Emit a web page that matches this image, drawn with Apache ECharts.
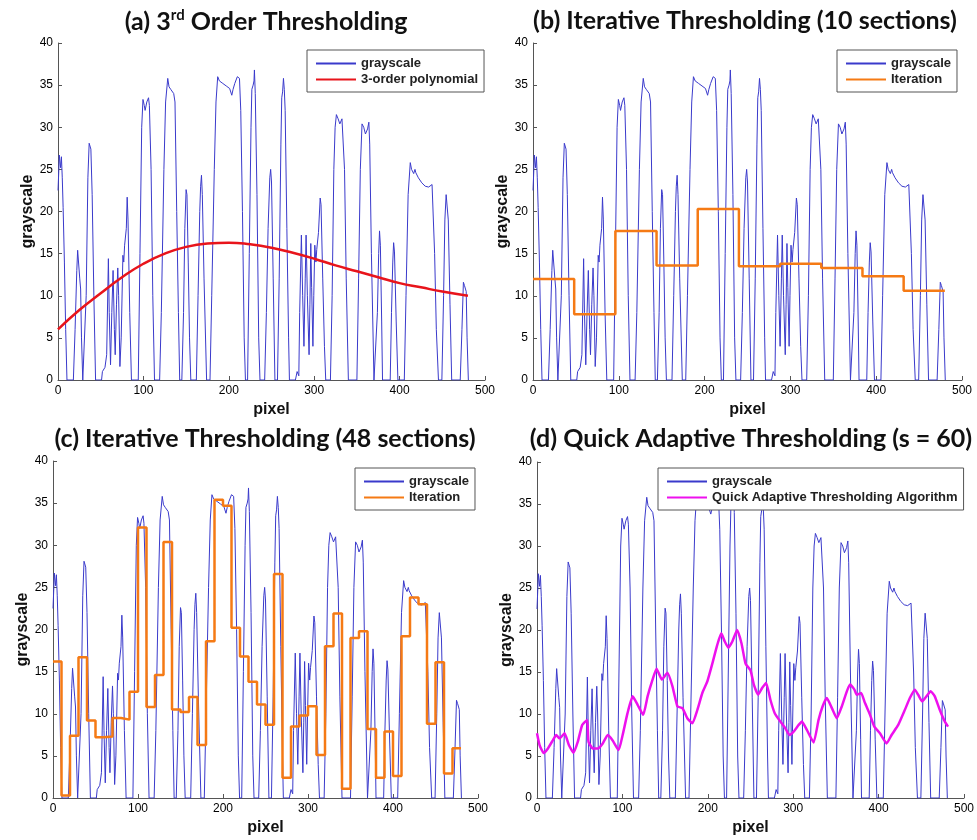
<!DOCTYPE html>
<html>
<head>
<meta charset="utf-8">
<script src="https://cdn.jsdelivr.net/npm/echarts@6/dist/echarts.min.js"></script>
<style>
html, body { margin: 0; padding: 0; background: #fff; }
#main { width: 977px; height: 840px; }
</style>
</head>
<body>
<div id="main"></div>
<script>
// grayscale profile, [pixel, grayscale]
const grayscale = [
  [0,22.5],[1,25],[1.5,26.7],[3,25.2],[4,26.5],[5,24],[6,20.5],[7.5,14],[9,6],[10.5,0],
  [18,0],[20,6],[22,13],[23,15.4],[24.5,15.5],[25.5,12],[26.5,10.8],[27.5,5],[29,0],
  [31,0],[33,10],[35,24],[36.5,28.1],[38.5,27.4],[40,22],[42,10],[44,0],
  [51,0],[52,1],[55,1.5],[57,3],[59,14.4],[60,8],[61.5,1.8],[63,8],[64.5,13],[66,6],[67,3],
  [68.5,9],[70,13.3],[71,10],[72.5,1.6],[74,5],[76,14.8],[77,14],[78,16],[80,18],[81,21.7],[82,19],[84,8],[86,0],
  [94,0],[96,15],[98,30],[99.5,33.3],[101,32.6],[102,32],[104,33],[106,33.5],[107,32.6],[109,25],[111,10],[113,0],
  [119,0],[121,8],[124,25],[126,33],[128.5,35.8],[130,34.8],[132,34.5],[134,34.5],[135.5,34],[137,33],[139,20],[141,8],[142.5,0],
  [145,0],[147,8],[148.5,18],[150,22.6],[151,22],[152.5,14],[154,5],[155.5,0],
  [162,0],[164,10],[166,20],[167,23],[168,24.3],[169,22],[171,12],[174,0],
  [178,0],[180,10],[183,25],[185,33],[187,36],[189,35.5],[193,35.2],[197,34.9],[201,34.6],[203.5,33.8],
  [205,34.5],[207,35.2],[210,36],[212.5,35.8],[214,32],[216,20],[218,5],[219.5,0],
  [222,0],[224,15],[226,30],[227,34.5],[228.5,35],[229.5,35.5],[230,36.8],[231,34],[233,22],[235,5],[236.5,0],
  [242,0],[244,8],[246,18],[248,24],[249,25],[250,23.5],[252,12],[254,0],
  [257,0],[259,12],[261,28],[262,33.5],[263,34.2],[264,35.8],[265,34.5],[266,32],[268,18],[270,5],[271,0],
  [278,0],[280,1],[282,0.5],[283,8],[285,17.2],[286.5,10],[288,4],[289.5,12],[290.5,17.2],[292,10],[294,3],
  [295,9],[296,16.2],[297,11],[298.5,4],[299.5,10],[300.7,16],[302,14],[303,15.5],[305,17.5],[307,21.6],[308,20.8],[310,12],[312,4],[313.5,0],
  [319,0],[321,10],[323,25],[324.5,30],[326,31.5],[328,31],[330,30.4],[331,30.3],[332.5,31],[334,30.8],[335.5,25],[337.5,12],[340,0],
  [350,0],[352,12],[354,25],[356,30.4],[358,30],[360,29.2],[361.5,29],[362.5,29.8],[364,30.6],[365,28],[367,15],[370,0],
  [372,0],[374,8],[375.5,15],[376.5,17.7],[377.5,16],[379,7],[380,0],
  [389,0],[390.5,8],[392,14],[393,16.3],[394,15.2],[396,7],[398,0],
  [405.5,0],[407.5,10],[410,22],[412.5,25.8],[414,25],[416.5,24.5],[418,25],[419,24.6],[422,24],[426,23.4],
  [430,23],[434,22.9],[438,23.2],[439,23],[441,15],[443,6],[445.5,0],
  [449.5,0],[451.5,10],[453,19],[454.5,22],[456,21.8],[457,19],[459,9],[461,0],
  [471,0],[473,6],[474.7,11.6],[476,11.2],[478,10.5],[479,5],[480.5,0]
];

// (a) 3rd order polynomial fit
const poly3 = [
  [0,6.0],[25,8.3],[50,10.3],[75,12.2],[100,13.8],[125,15.0],[150,15.8],[175,16.2],[200,16.3],
  [225,16.1],[250,15.7],[275,15.1],[300,14.4],[325,13.6],[350,12.9],[375,12.2],[400,11.5],
  [425,11.0],[450,10.5],[480,10.0]
];

// (b) 10 sections
const edges10 = [0, 48, 96, 144, 192, 240, 288, 336, 384, 432, 480];
const iter10 = [12.0, 7.8, 17.7, 13.6, 20.3, 13.5, 13.8, 13.3, 12.3, 10.6];

// (c) 48 sections
const edges48 = [0,10,20,30,40,50,60,70,80,90,100,110,120,130,140,150,160,170,180,190,200,
  210,220,230,240,250,260,270,280,290,300,310,320,330,340,350,360,370,380,390,400,
  410,420,430,440,450,460,470,480];
const iter48 = [16.2, 0.3, 7.4, 16.7, 9.2, 7.2, 7.3, 9.5, 9.3, 12.6, 32.1, 10.8, 14.6, 30.4, 10.5, 10.2,
  12.0, 6.3, 18.6, 35.4, 34.7, 20.2, 16.8, 13.8, 11.1, 8.7, 26.6, 2.4, 8.5, 9.8, 10.9, 5.1,
  18.0, 21.9, 1.1, 19.0, 19.8, 8.2, 2.4, 7.9, 2.6, 19.2, 23.8, 23.0, 8.8, 16.1, 2.9, 5.9];

// (d) quick adaptive thresholding, s = 60
const quickAdaptive = [
  [0,7.7],[3,6.3],[7.8,5.35],[12.8,5.9],[18.7,6.9],[22.5,7.5],[26.4,7.1],[32.3,7.7],[37.3,6.3],[42.8,5.4],
  [47.8,6.7],[52.9,8.7],[58.7,9.3],[60.3,6.7],[65.3,5.9],[71.2,5.9],[77,6.5],[82.8,7.5],[88.6,6.85],[95.6,5.7],
  [100.3,7.5],[106,10.1],[112,12.1],[117.8,11.1],[124.4,9.9],[129.5,12.1],[135.3,14.1],[140,15.4],[146.2,14.1],
  [152.8,14.9],[158.6,13.3],[164.5,10.9],[170.3,10.7],[176,9.5],[182,8.9],[187.8,10.5],[193.6,12.5],[199.5,13.9],
  [205.3,16],[211,18.2],[215.8,19.6],[220,18.6],[224,17.9],[228.6,18.6],[234.4,20],[239.5,18.4],[244.2,16],
  [250,15.2],[253.9,13.5],[259,12.3],[263.6,13.1],[268.3,13.7],[273.3,11.7],[278.4,10.1],[285,9.1],[290.8,8.3],
  [295.5,7.5],[300.5,7.9],[306.4,8.7],[310.3,9.1],[316,8.1],[323.9,6.6],[329.7,9.3],[334.4,10.9],[339.4,11.9],
  [345.3,10.7],[351,9.5],[356.9,10.9],[362.8,12.7],[366.6,13.5],[371.7,12.9],[374.4,12.3],[379.5,12.5],[384.1,11.3],
  [390,9.9],[395,8.5],[401.6,7.7],[409.4,6.5],[415.2,7.5],[423,8.7],[430.8,10.5],[436.6,11.9],[442.5,12.9],
  [446.3,12.3],[451,11.5],[456,12.1],[461,12.7],[465.8,12.1],[471.6,10.5],[477.5,9.1],[481.3,8.5]
];

const titles = [
  '(a) 3{sup|rd} Order Thresholding',
  '(b) Iterative Thresholding (10 sections)',
  '(c) Iterative Thresholding (48 sections)',
  '(d) Quick Adaptive Thresholding (s = 60)'
];

const grids = [
  { left: 58, top: 43, width: 427, height: 337 },
  { left: 533, top: 43, width: 429, height: 337 },
  { left: 53, top: 461, width: 425, height: 337 },
  { left: 537, top: 462, width: 429, height: 336 }
];
const titlePos = [[261, 3], [740, 3], [260, 421], [746, 421]];
const legendPos = [[307, 50], [837, 50], [355, 468], [658, 468]];
const legendItems = [
  ['grayscale', '3-order polynomial'],
  ['grayscale', 'Iteration'],
  ['grayscale', 'Iteration'],
  ['grayscale', 'Quick Adaptive Thresholding Algorithm']
];

function steps(edges, vals) {
  return edges.map((e, i) => [e, vals[Math.min(i, vals.length - 1)]]);
}

const tickFont = { fontFamily: 'Liberation Sans', fontSize: 12, color: '#000' };
const nameFont = { fontFamily: 'Liberation Sans', fontSize: 16, fontWeight: 'bold', color: '#111' };
const axisLineStyle = { lineStyle: { color: '#555', width: 1 } };

const xAxes = grids.map((g, i) => ({
  gridIndex: i, type: 'value', min: 0, max: 500, interval: 100,
  name: 'pixel', nameLocation: 'middle', nameGap: 22, nameTextStyle: nameFont,
  axisLine: axisLineStyle, axisTick: { inside: true, length: 4, lineStyle: { color: '#555' } },
  axisLabel: Object.assign({ margin: 5 }, tickFont), splitLine: { show: false }
}));
const yAxes = grids.map((g, i) => ({
  gridIndex: i, type: 'value', min: 0, max: 40, interval: 5,
  name: 'grayscale', nameLocation: 'middle', nameGap: 21, nameTextStyle: nameFont,
  axisLine: Object.assign({ show: true }, axisLineStyle),
  axisTick: { show: true, inside: true, length: 4, lineStyle: { color: '#555' } },
  axisLabel: Object.assign({ margin: 5 }, tickFont), splitLine: { show: false }
}));

const series = [];
grids.forEach((g, i) => {
  series.push({
    name: 'grayscale', type: 'line', xAxisIndex: i, yAxisIndex: i,
    data: grayscale, symbol: 'none', lineStyle: { color: '#3a3acb', width: 1 },
    itemStyle: { color: '#3a3acb' }, z: 2
  });
});
series.push({
  name: '3-order polynomial', type: 'line', xAxisIndex: 0, yAxisIndex: 0, smooth: true,
  data: poly3, symbol: 'none', lineStyle: { color: '#e8141b', width: 2.5 }, itemStyle: { color: '#e8141b' }, z: 3
});
series.push({
  name: 'Iteration', type: 'line', xAxisIndex: 1, yAxisIndex: 1, step: 'end',
  data: steps(edges10, iter10), symbol: 'none', lineStyle: { color: '#f57a14', width: 2.5 }, itemStyle: { color: '#f57a14' }, z: 3
});
series.push({
  name: 'Iteration', type: 'line', xAxisIndex: 2, yAxisIndex: 2, step: 'end',
  data: steps(edges48, iter48), symbol: 'none', lineStyle: { color: '#f57a14', width: 2.5 }, itemStyle: { color: '#f57a14' }, z: 3
});
series.push({
  name: 'Quick Adaptive Thresholding Algorithm', type: 'line', xAxisIndex: 3, yAxisIndex: 3, smooth: 0.15,
  data: quickAdaptive, symbol: 'none', lineStyle: { color: '#ee10ee', width: 2.5 }, itemStyle: { color: '#ee10ee' }, z: 3
});

const chart = echarts.init(document.getElementById('main'), null, { renderer: 'canvas' });
chart.setOption({
  backgroundColor: '#fff',
  animation: false,
  title: titles.map((t, i) => ({
    text: t, left: titlePos[i][0], top: titlePos[i][1], textAlign: 'center',
    textStyle: {
      fontFamily: 'Lato', fontWeight: 'bold', fontSize: 25, color: '#111',
      rich: { sup: { fontFamily: 'Lato', fontWeight: 'bold', fontSize: 15, color: '#111', verticalAlign: 'top', padding: [0, 0, 12, 0] } }
    }
  })),
  legend: legendItems.map((items, i) => ({
    data: items, orient: 'vertical', left: legendPos[i][0], top: legendPos[i][1],
    backgroundColor: '#fff', borderColor: '#555', borderWidth: 1, borderRadius: 0,
    padding: [7, 6, 6, 8], itemGap: 3, itemWidth: 40, itemHeight: 10,
    itemStyle: { opacity: 0 },
    textStyle: { fontFamily: 'Liberation Sans', fontSize: 13, fontWeight: 'bold', color: '#222' },
    selectedMode: false, z: 10
  })),
  grid: grids,
  xAxis: xAxes,
  yAxis: yAxes,
  series: series
});
</script>
</body>
</html>
